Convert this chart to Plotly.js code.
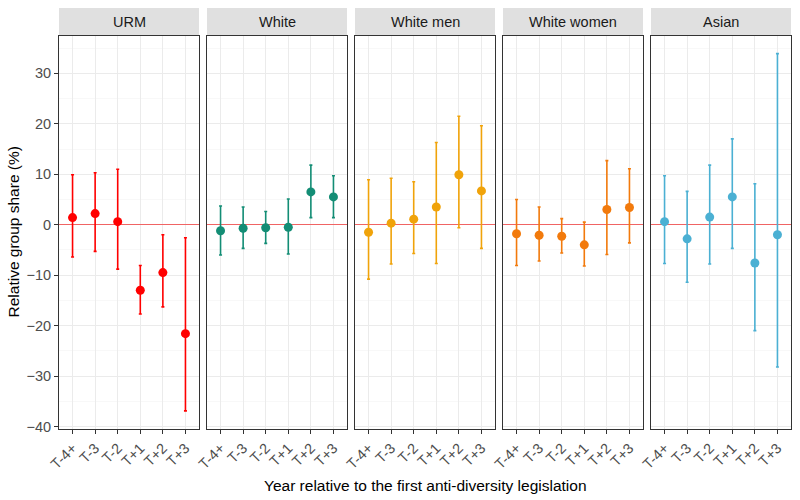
<!DOCTYPE html>
<html>
<head>
<meta charset="utf-8">
<script src="https://cdn.plot.ly/plotly-3.0.1.min.js"></script>
<style>
  body { margin: 0; background: #fff; }
  #chart { width: 800px; height: 500px; }
</style>
</head>
<body>
<div id="chart"></div>
<script>
// data
const periods = ['T-4+', 'T-3', 'T-2', 'T+1', 'T+2', 'T+3'];
const groups = ['URM', 'White', 'White men', 'White women', 'Asian'];
const groupColors = ['#ff0000', '#138d75', '#f0a30a', '#f27a0c', '#4bb0d3'];

const urmEst = [1.4, 2.2, 0.6, -13.0, -9.5, -21.6];
const urmLow = [-6.4, -5.3, -8.8, -17.7, -16.3, -36.9];
const urmHigh = [9.9, 10.3, 11.0, -8.1, -2.0, -2.6];

const whiteEst = [-1.2, -0.7, -0.6, -0.5, 6.5, 5.5];
const whiteLow = [-6.0, -4.7, -3.7, -5.8, 1.4, 1.4];
const whiteHigh = [3.7, 3.5, 2.6, 5.1, 11.8, 9.7];

const wmenEst = [-1.5, 0.3, 1.1, 3.5, 9.9, 6.7];
const wmenLow = [-10.8, -7.8, -5.7, -7.7, -0.6, -4.7];
const wmenHigh = [8.9, 9.2, 8.5, 16.3, 21.5, 19.6];

const wwomenEst = [-1.8, -2.1, -2.3, -4.0, 3.0, 3.4];
const wwomenLow = [-8.1, -7.2, -5.6, -8.2, -5.9, -3.6];
const wwomenHigh = [5.0, 3.5, 1.2, 0.5, 12.7, 11.1];

const asianEst = [0.6, -2.8, 1.5, 5.5, -7.6, -2.0];
const asianLow = [-7.7, -11.4, -7.8, -4.7, -21.0, -28.2];
const asianHigh = [9.7, 6.6, 11.8, 17.0, 8.1, 33.9];

const ests = [urmEst, whiteEst, wmenEst, wwomenEst, asianEst];
const lows = [urmLow, whiteLow, wmenLow, wwomenLow, asianLow];
const highs = [urmHigh, whiteHigh, wmenHigh, wwomenHigh, asianHigh];

var traces = [];
var layout = {
  width: 800,
  height: 500,
  margin: {l: 59, r: 9, t: 36, b: 71},
  paper_bgcolor: '#fff',
  plot_bgcolor: '#fff',
  showlegend: false,
  font: {family: 'Liberation Sans, Arial, sans-serif', size: 13, color: '#4d4d4d'},
  shapes: [],
  annotations: []
};

const plotW = 732, plotH = 393, panelW = 140, gap = 8;

groups.forEach(function(g, i) {
  var sfx = i === 0 ? '' : String(i + 1);
  var est = ests[i];
  traces.push({
    type: 'scatter',
    mode: 'markers',
    x: periods,
    y: est,
    xaxis: 'x' + sfx,
    yaxis: 'y' + sfx,
    marker: {color: groupColors[i], size: 9},
    error_y: {
      type: 'data',
      symmetric: false,
      array: highs[i].map((h, k) => h - est[k]),
      arrayminus: est.map((e, k) => e - lows[i][k]),
      color: groupColors[i],
      thickness: 1.6,
      width: 1.5
    },
    hoverinfo: 'x+y'
  });

  var d0 = (i * (panelW + gap)) / plotW;
  var d1 = (i * (panelW + gap) + panelW) / plotW;

  layout['xaxis' + sfx] = {
    domain: [d0, d1],
    anchor: 'y' + sfx,
    type: 'category',
    categoryorder: 'array',
    categoryarray: periods,
    range: [-0.6, 5.6],
    tickangle: -45,
    ticks: 'outside',
    ticklen: 4,
    tickcolor: '#333',
    tickfont: {size: 14.5, color: '#4d4d4d'},
    showgrid: true,
    gridcolor: '#ebebeb',
    gridwidth: 1,
    showline: true,
    mirror: true,
    linecolor: '#333',
    linewidth: 1,
    zeroline: false,
    fixedrange: true
  };

  layout['yaxis' + sfx] = {
    anchor: 'x' + sfx,
    range: [-40.5, 37.4],
    tickvals: [-40, -30, -20, -10, 0, 10, 20, 30],
    ticks: i === 0 ? 'outside' : '',
    ticklen: 4,
    tickcolor: '#333',
    showticklabels: i === 0,
    tickfont: {size: 14.5, color: '#4d4d4d'},
    showgrid: true,
    gridcolor: '#ebebeb',
    gridwidth: 1,
    minor: {tickvals: [-35, -25, -15, -5, 5, 15, 25, 35], showgrid: true, gridcolor: '#f3f3f3', gridwidth: 0.6},
    zeroline: true,
    zerolinecolor: '#f06464',
    zerolinewidth: 1.6,
    showline: true,
    mirror: true,
    linecolor: '#333',
    linewidth: 1,
    fixedrange: true
  };
  if (i > 0) layout['yaxis' + sfx].matches = 'y';

  // facet strip
  layout.shapes.push({
    type: 'rect',
    xref: 'paper', yref: 'paper',
    x0: d0, x1: d1,
    y0: 1 + 1 / plotH, y1: 1 + 28 / plotH,
    fillcolor: '#e0e0e0',
    line: {width: 0},
    layer: 'below'
  });
  layout.annotations.push({
    xref: 'paper', yref: 'paper',
    x: (d0 + d1) / 2, y: 1 + 14.5 / plotH,
    text: g,
    showarrow: false,
    xanchor: 'center', yanchor: 'middle',
    font: {size: 14.5, color: '#1a1a1a'}
  });
});

layout.annotations.push({
  xref: 'paper', yref: 'paper',
  x: 0.5, y: -46 / plotH,
  text: 'Year relative to the first anti-diversity legislation',
  showarrow: false,
  xanchor: 'center', yanchor: 'top',
  font: {size: 15.5, color: '#000'}
});
layout.annotations.push({
  xref: 'paper', yref: 'paper',
  x: -46 / plotW, y: 0.5,
  text: 'Relative group share (%)',
  showarrow: false,
  textangle: -90,
  xanchor: 'center', yanchor: 'middle',
  font: {size: 15.5, color: '#000'}
});

Plotly.newPlot('chart', traces, layout, {displayModeBar: false, staticPlot: true});
</script>
</body>
</html>
